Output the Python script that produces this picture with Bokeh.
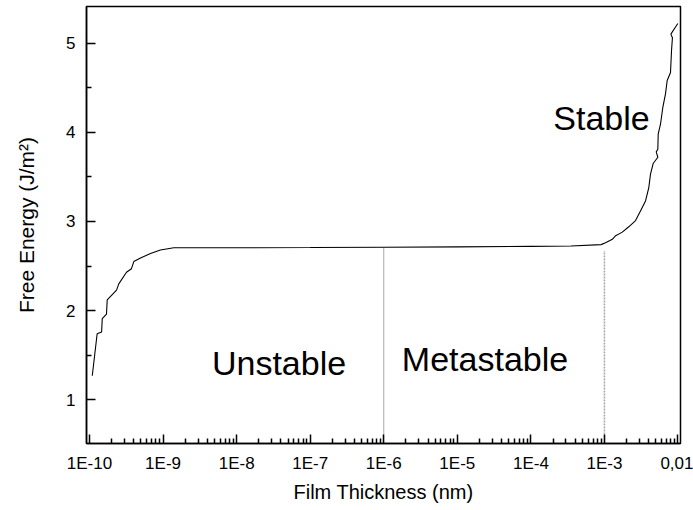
from bokeh.plotting import figure
from bokeh.models import (Range1d, FixedTicker, CustomJSTickFormatter, ColumnDataSource)
from bokeh.core.properties import value
from bokeh.embed import file_html
from bokeh.resources import INLINE

# Film thickness (nm) and free energy (J/m^2) along the curve
thickness = [1.09e-10, 1.27e-10, 1.46e-10, 1.49e-10, 1.70e-10, 1.74e-10, 2.33e-10,
             2.50e-10, 3.18e-10, 3.72e-10, 4.00e-10, 4.93e-10, 6.75e-10, 9.2e-10,
             1.40e-9, 1.55e-8, 1.0e-7, 1.0e-6, 1.0e-5, 1.0e-4, 3.5e-4, 9.0e-4,
             1.035e-3, 1.28e-3, 1.42e-3, 1.75e-3, 2.14e-3, 2.65e-3, 3.10e-3,
             3.62e-3, 4.01e-3, 4.23e-3, 4.60e-3, 5.32e-3, 5.06e-3, 5.32e-3,
             5.38e-3, 5.78e-3, 6.22e-3, 6.76e-3, 7.13e-3, 7.91e-3, 8.17e-3,
             8.40e-3, 8.00e-3, 9.25e-3, 9.95e-3]
energy = [1.27, 1.74, 1.76, 1.91, 1.96, 2.12, 2.23,
          2.30, 2.43, 2.47, 2.55, 2.59, 2.64, 2.68,
          2.705, 2.705, 2.707, 2.71, 2.715, 2.72, 2.725, 2.74,
          2.76, 2.80, 2.84, 2.88, 2.94, 3.01, 3.12,
          3.23, 3.38, 3.53, 3.65, 3.72, 3.78, 3.81,
          3.98, 4.09, 4.28, 4.43, 4.58, 4.67, 4.92,
          5.06, 5.10, 5.18, 5.22]

# Region boundaries (dotted markers)
boundary_x = [1e-6, 1e-3]
boundary_top = [2.71, 2.67]

# Region names and where they are written
region_names = ["Unstable", "Metastable", "Stable"]
region_x = [3.77e-8, 2.38e-5, 9.12e-4]
region_y = [1.41, 1.46, 4.16]

# Axis ticks
x_tick_values = [1e-10, 1e-9, 1e-8, 1e-7, 1e-6, 1e-5, 1e-4, 1e-3, 1e-2]
x_tick_labels = ["1E-10", "1E-9", "1E-8", "1E-7", "1E-6", "1E-5", "1E-4", "1E-3", "0,01"]
y_tick_values = [1, 2, 3, 4, 5]
y_minor_values = [0.5, 1.5, 2.5, 3.5, 4.5, 5.5]

FONT = "Liberation Sans"

p = figure(width=693, height=510, x_axis_type="log",
           x_range=Range1d(10 ** -10.041, 10 ** -1.966),
           y_range=Range1d(0.51, 5.41),
           output_backend="svg", toolbar_location=None,
           min_border_left=86, min_border_right=13,
           min_border_top=6, min_border_bottom=67)

p.background_fill_color = "white"
p.border_fill_color = "white"
p.grid.visible = False
p.outline_line_color = "black"
p.outline_line_width = 1.5

# x axis: decades with 2..9 minor ticks
x_minor = [m * 10.0 ** k for k in range(-11, -1) for m in range(2, 10)]
p.xaxis.ticker = FixedTicker(ticks=x_tick_values, minor_ticks=x_minor)
p.xaxis.formatter = CustomJSTickFormatter(
    args=dict(vals=x_tick_values, labels=x_tick_labels),
    code="""
        let best = 0;
        for (let i = 0; i < vals.length; i++) {
            if (Math.abs(Math.log10(vals[i]) - Math.log10(tick)) <
                Math.abs(Math.log10(vals[best]) - Math.log10(tick))) best = i;
        }
        return labels[best];
    """)
p.yaxis.ticker = FixedTicker(ticks=y_tick_values, minor_ticks=y_minor_values)

for ax in (p.xaxis[0], p.yaxis[0]):
    ax.axis_line_color = "black"
    ax.axis_line_width = 1.5
    ax.major_tick_in = 9
    ax.major_tick_out = 0
    ax.minor_tick_in = 5
    ax.minor_tick_out = 0
    ax.major_tick_line_width = 1.5
    ax.minor_tick_line_width = 1.5
    ax.major_tick_line_color = "black"
    ax.minor_tick_line_color = "black"
    ax.major_label_text_font = FONT
    ax.major_label_text_font_size = "17px"
    ax.major_label_text_color = "black"
    ax.axis_label_text_font = FONT
    ax.axis_label_text_font_style = "normal"
    ax.axis_label_text_color = "black"

p.xaxis.axis_label = "Film Thickness (nm)"
p.yaxis.axis_label = "Free Energy (J/m²)"
p.xaxis.axis_label_text_font_size = "20px"
p.yaxis.axis_label_text_font_size = "21px"
p.xaxis.major_label_standoff = 10
p.xaxis.axis_label_standoff = 5
p.yaxis.major_label_standoff = 11
p.yaxis.axis_label_standoff = 25

# dotted region boundaries
p.segment(x0=boundary_x[:1], y0=[0.51], x1=boundary_x[:1], y1=boundary_top[:1],
          line_color="#555555", line_width=1, line_dash="1 1")
p.segment(x0=boundary_x[1:], y0=[0.51], x1=boundary_x[1:], y1=boundary_top[1:],
          line_color="#a8a8a8", line_width=1.5, line_dash="2 1")

# free energy curve
src = ColumnDataSource(dict(x=thickness, y=energy))
p.line("x", "y", source=src, line_color="black", line_width=1.1)

# region names
p.text(x=region_x, y=region_y, text=region_names,
       text_font=value(FONT), text_font_size="34px", text_color="black",
       text_align="center", text_baseline="alphabetic")

open("out.html", "w").write(file_html(p, INLINE))
